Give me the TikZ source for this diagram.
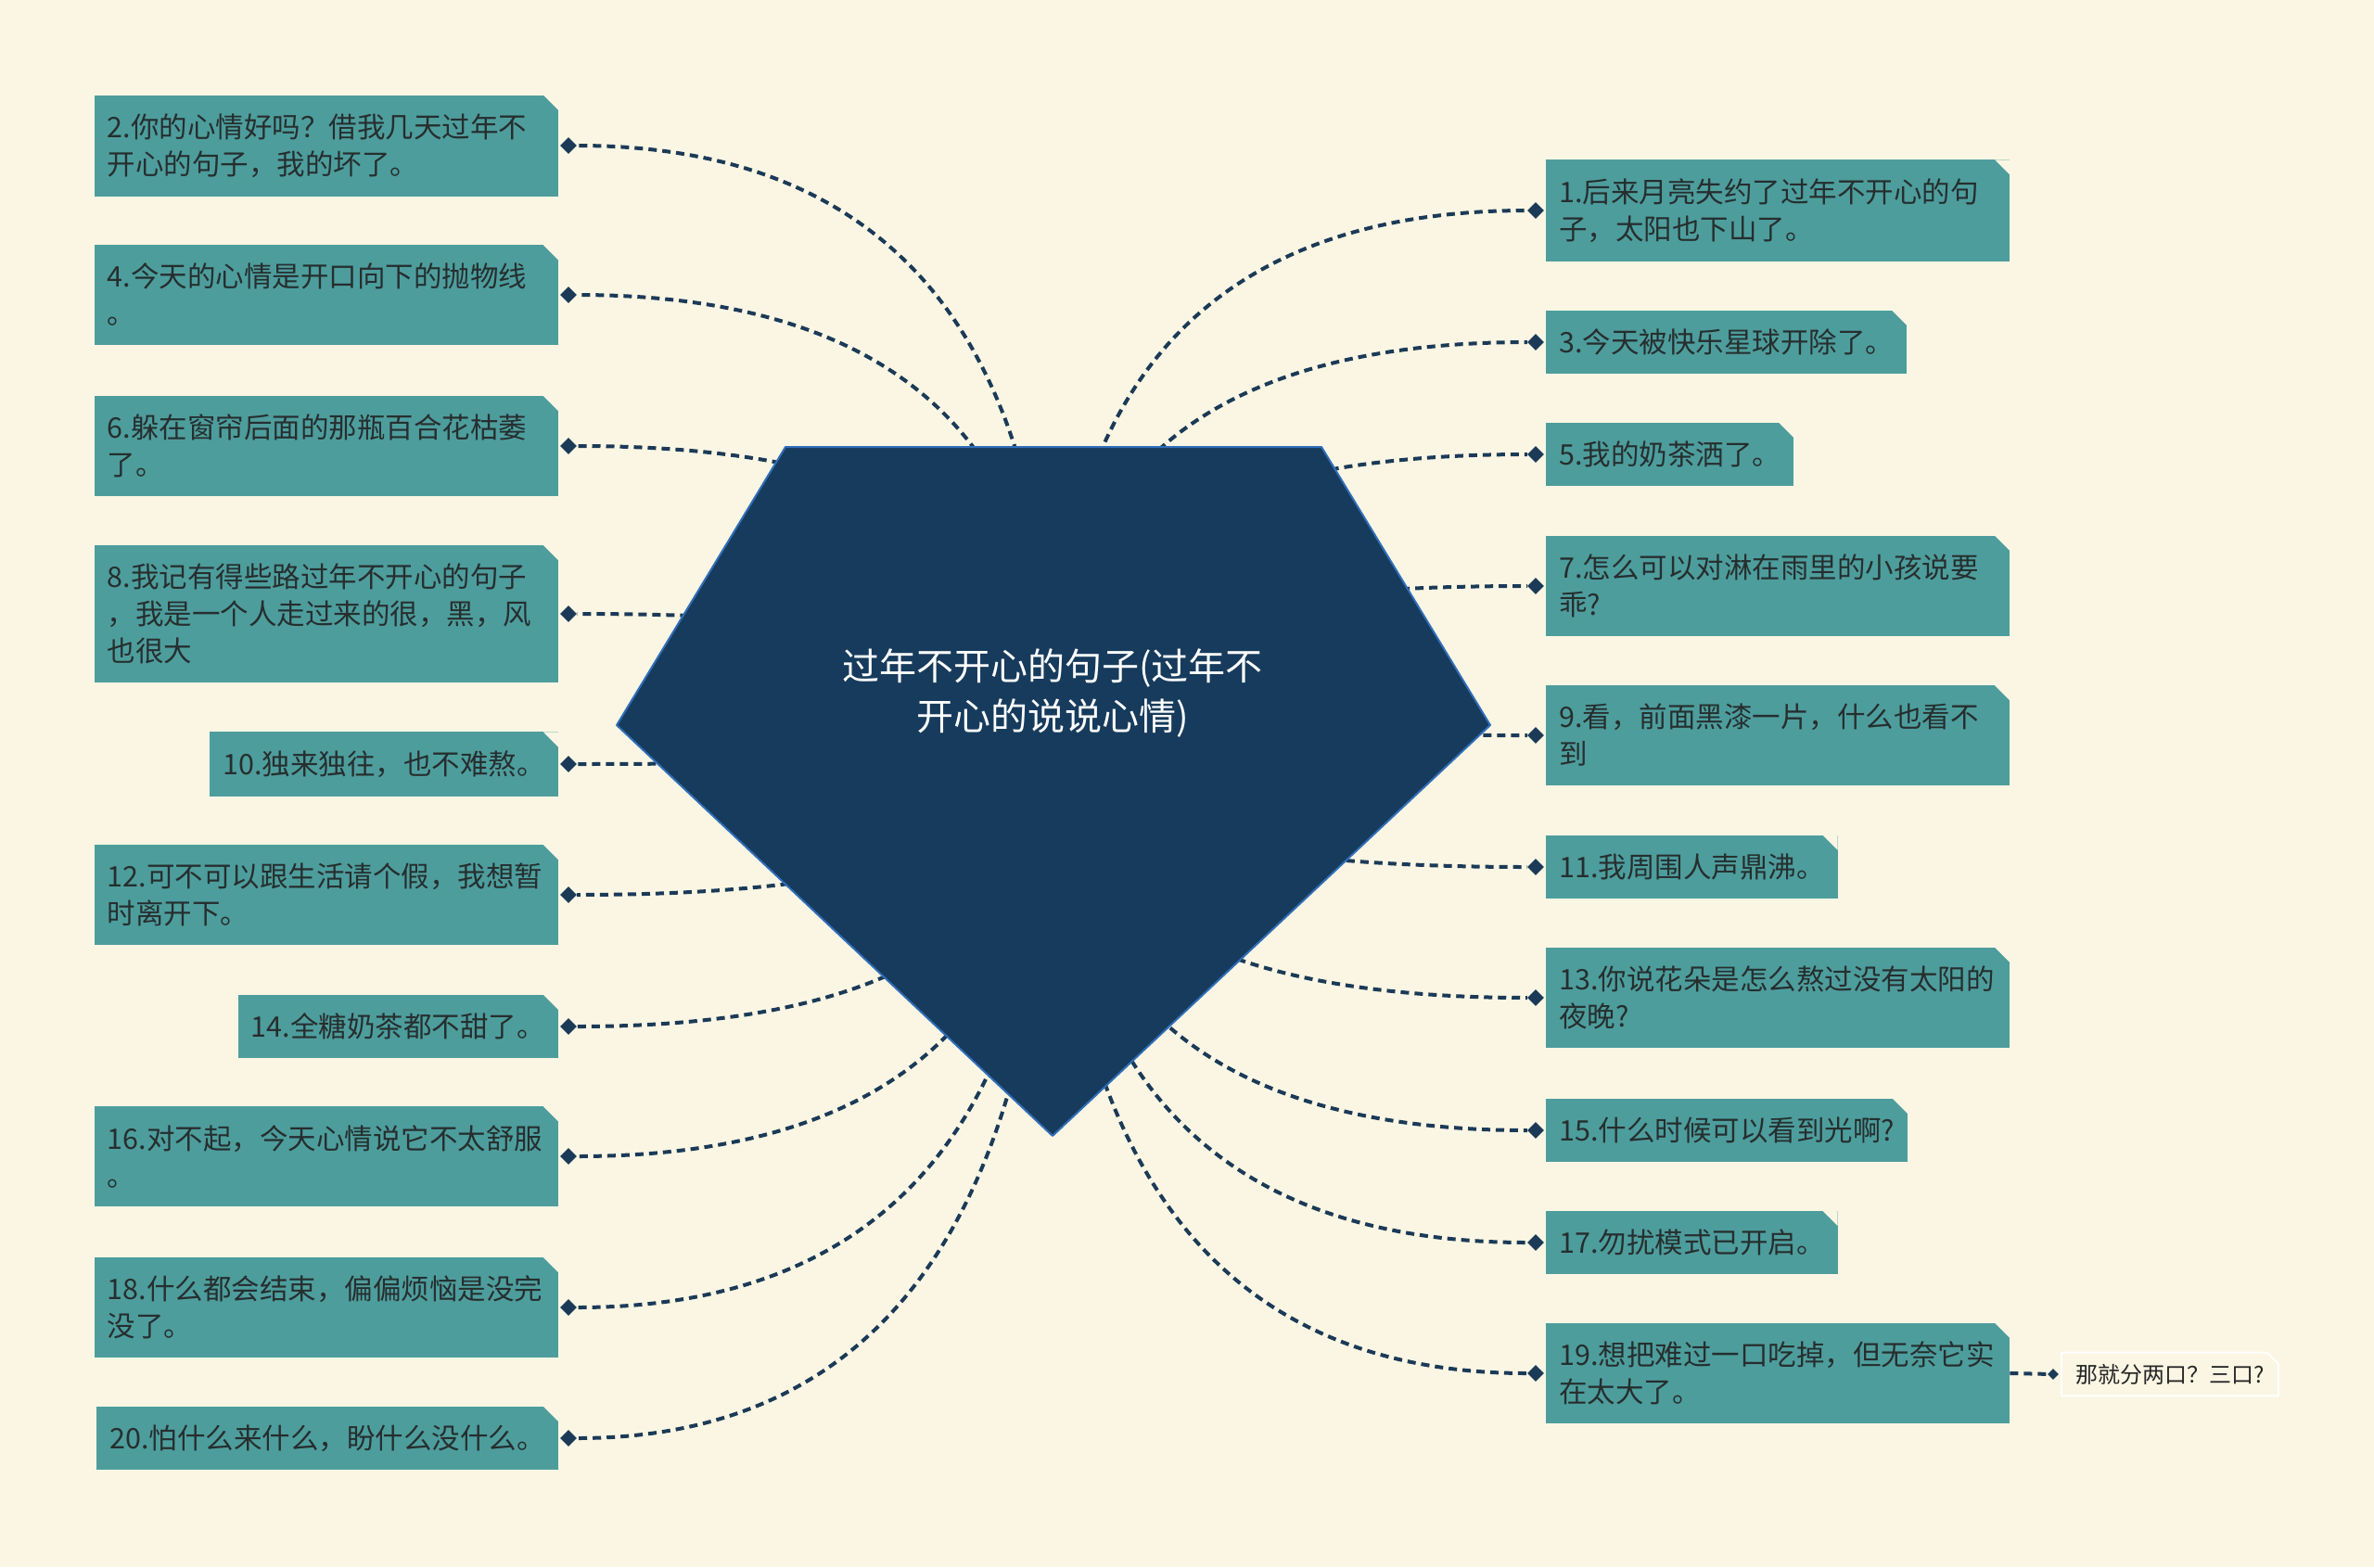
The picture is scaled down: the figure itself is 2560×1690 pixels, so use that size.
\documentclass[tikz,border=0pt]{standalone}
\usepackage{fontspec}
\newfontfamily\cjk{Noto Sans CJK SC}
\usetikzlibrary{calc,shapes.geometric}

\definecolor{paper}{RGB}{250,246,227}
\definecolor{leafcol}{RGB}{78,157,157}
\definecolor{ink}{RGB}{38,46,46}
\definecolor{rootfill}{RGB}{23,59,92}
\definecolor{rootline}{RGB}{48,110,185}
\definecolor{wirecol}{RGB}{27,58,87}

\pgfdeclarelayer{back}
\pgfsetlayers{back,main}

\tikzset{
  leaf/.style={rectangle, fill=leafcol, text=ink, inner xsep=14pt, inner ysep=20pt,
    font=\cjk\fontsize{30.5}{40}\selectfont,
    path picture={\fill[paper] (path picture bounding box.north east) -- ++(-16pt,0pt) -- ++(16pt,-16pt) -- cycle;}},
  wide/.style={text width=472pt, align=left},
  twig/.style={rectangle, text=black!85, inner xsep=15pt, inner ysep=12pt,
    font=\cjk\fontsize{24}{30}\selectfont},
  knob/.style={diamond, fill=wirecol, inner sep=0pt, minimum size=18pt},
  link/.style={draw=wirecol, line width=4pt, dash pattern=on 9pt off 6pt},
}

\begin{document}
\begin{tikzpicture}[x=1pt, y=-1pt, line join=round]

  %% ════ 中心五边形 ════
  \path[fill=rootfill, draw=rootline, line width=2pt]
    (847,482) -- (1425,482) -- (1607,782) -- (1135,1225) -- (665,782) -- cycle;
  \coordinate (hub) at (1135,784);
  \node[font=\cjk\fontsize{40}{54}\selectfont, text=white, align=center] (root) at (1135,748)
    {过年不开心的句子(过年不\\开心的说说心情)};

  %% ════ 左侧分支 ════
  \node[leaf, wide, anchor=east] (L2)  at (602,157)  {2.你的心情好吗？借我几天过年不\\开心的句子，我的坏了。};
  \node[leaf, wide, anchor=east] (L4)  at (602,318)  {4.今天的心情是开口向下的抛物线\\。};
  \node[leaf, wide, anchor=east] (L6)  at (602,481)  {6.躲在窗帘后面的那瓶百合花枯萎\\了。};
  \node[leaf, wide, anchor=east] (L8)  at (602,662)  {8.我记有得些路过年不开心的句子\\，我是一个人走过来的很，黑，风\\也很大};
  \node[leaf, anchor=east]       (L10) at (602,824)  {10.独来独往，也不难熬。};
  \node[leaf, wide, anchor=east] (L12) at (602,965)  {12.可不可以跟生活请个假，我想暂\\时离开下。};
  \node[leaf, anchor=east]       (L14) at (602,1107) {14.全糖奶茶都不甜了。};
  \node[leaf, wide, anchor=east] (L16) at (602,1247) {16.对不起，今天心情说它不太舒服\\。};
  \node[leaf, wide, anchor=east] (L18) at (602,1410) {18.什么都会结束，偏偏烦恼是没完\\没了。};
  \node[leaf, anchor=east]       (L20) at (602,1551) {20.怕什么来什么，盼什么没什么。};

  %% ════ 右侧分支 ════
  \node[leaf, wide, anchor=west] (R1)  at (1667,227)  {1.后来月亮失约了过年不开心的句\\子，太阳也下山了。};
  \node[leaf, anchor=west]       (R3)  at (1667,369)  {3.今天被快乐星球开除了。};
  \node[leaf, anchor=west]       (R5)  at (1667,490)  {5.我的奶茶洒了。};
  \node[leaf, wide, anchor=west] (R7)  at (1667,632)  {7.怎么可以对淋在雨里的小孩说要\\乖?};
  \node[leaf, wide, anchor=west] (R9)  at (1667,793)  {9.看，前面黑漆一片，什么也看不\\到};
  \node[leaf, anchor=west]       (R11) at (1667,935)  {11.我周围人声鼎沸。};
  \node[leaf, wide, anchor=west] (R13) at (1667,1076) {13.你说花朵是怎么熬过没有太阳的\\夜晚?};
  \node[leaf, anchor=west]       (R15) at (1667,1219) {15.什么时候可以看到光啊?};
  \node[leaf, anchor=west]       (R17) at (1667,1340) {17.勿扰模式已开启。};
  \node[leaf, wide, anchor=west] (R19) at (1667,1481) {19.想把难过一口吃掉，但无奈它实\\在太大了。};

  %% 子节点（白色细框）
  \node[twig, anchor=west] (C19) at (2223,1482) {那就分两口？三口?};
  \draw[white, line width=2pt] (C19.south west) -- (C19.north west) -- ([xshift=-12pt]C19.north east)
    -- ([yshift=-12pt]C19.north east) -- (C19.south east) -- cycle;

  %% ════ 连接点（菱形）════
  \foreach \n in {2,4,6,8,10,12,14,16,18,20}
    \node[knob] (k\n) at ([xshift=11pt]L\n.east) {};
  \foreach \n in {1,3,5,7,9,11,13,15,17,19}
    \node[knob] (k\n) at ([xshift=-11pt]R\n.west) {};
  \node[knob, minimum size=12pt] (kc) at ([xshift=-9pt]C19.west) {};

  %% ════ 虚线连线（压在最底层）════
  \begin{pgfonlayer}{back}
    \fill[paper] (0,0) rectangle (2560,1690);
    \foreach \n in {1,...,20}
      \draw[link] (hub) .. controls ($(hub)!0.667!(hub |- k\n)$) and ($(k\n)!0.667!(hub |- k\n)$) .. (k\n);
    \draw[link] (R19.east) -- (kc);
  \end{pgfonlayer}

  % 钉死画布
  \pgfresetboundingbox
  \path[use as bounding box] (0,0) rectangle (2560,1690);
\end{tikzpicture}
\end{document}
